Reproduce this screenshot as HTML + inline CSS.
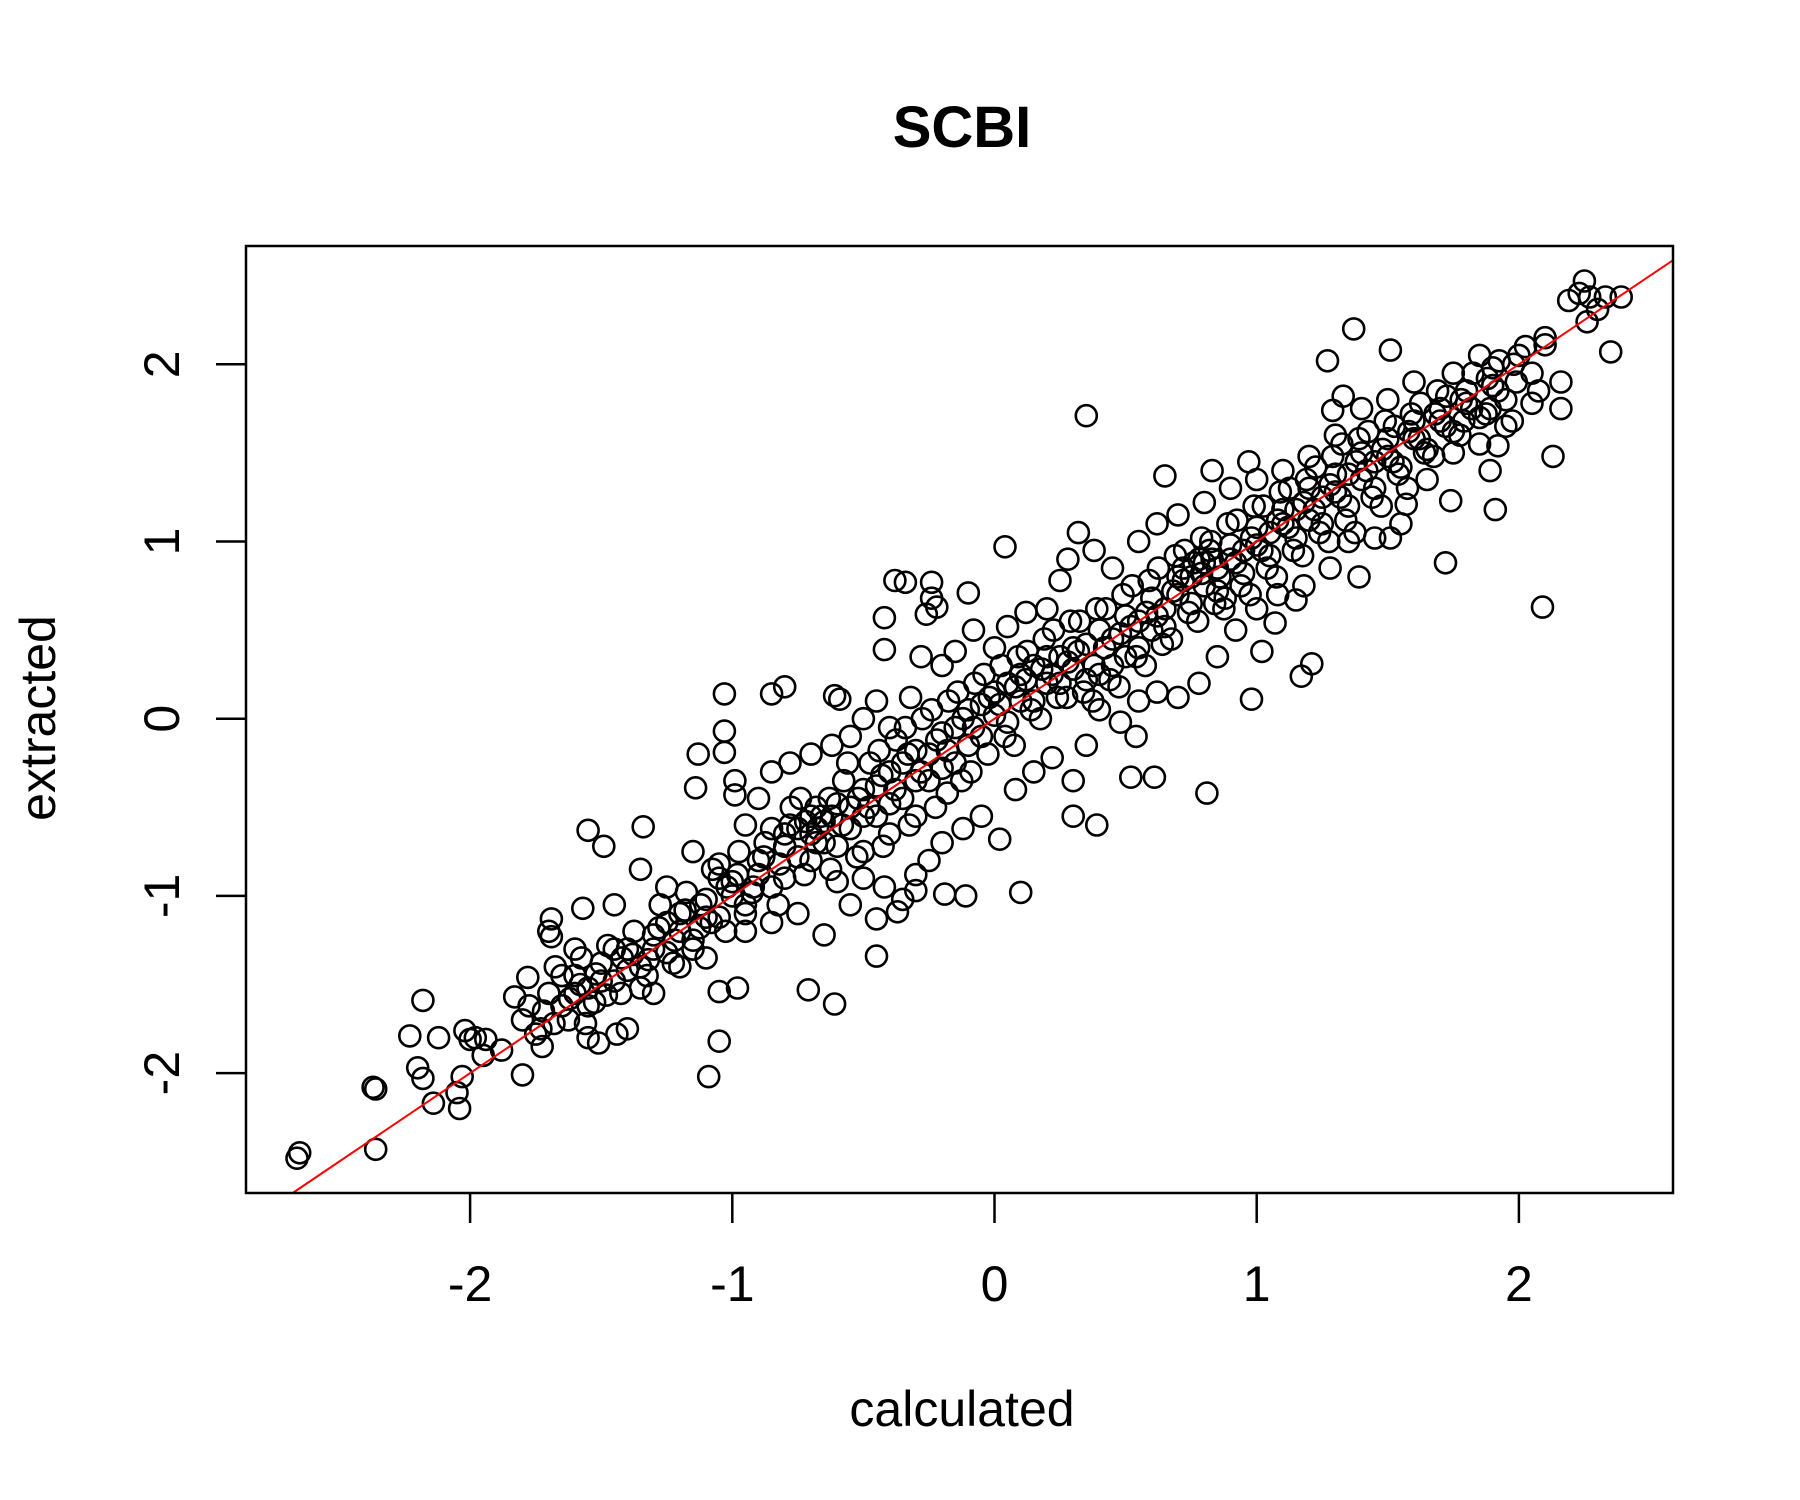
<!DOCTYPE html>
<html><head><meta charset="utf-8">
<style>
html,body{margin:0;padding:0;background:#fff;}
svg{display:block;font-family:"Liberation Sans",Arial,sans-serif;}
</style></head>
<body>
<svg id="chart" width="1800" height="1500" viewBox="0 0 1800 1500" xmlns="http://www.w3.org/2000/svg">
<rect x="0" y="0" width="1800" height="1500" fill="#fff"/>
<text x="962" y="147" text-anchor="middle" font-size="58" font-weight="bold">SCBI</text>
<text x="962" y="1426" text-anchor="middle" font-size="50">calculated</text>
<text transform="translate(55,718) rotate(-90)" text-anchor="middle" font-size="50">extracted</text>
<g id="points"></g>
<g id="xaxis"></g>
<g id="yaxis"></g>
<rect x="246" y="246" width="1427" height="947" fill="none" stroke="#000" stroke-width="2.5"/>
</svg>
<script>
const xTicks=[-2,-1,0,1,2];
const yTicks=[-2,-1,0,1,2];
const xTickLabels=["-2","-1","0","1","2"];
const yTickLabels=["-2","-1","0","1","2"];
const calculated=[
-2.66,-2.65,-2.37,-2.36,-2.36,-2.23,-2.18,-2.20,-2.18,-2.14,-2.12,-2.04,-2.05,-2.03,-2.02,-2.00,-1.98,-1.94,-1.95,-1.88,-1.83,-1.80,-1.78,-1.73,-1.69,-1.69,-1.55,-1.49,-1.34,-1.56,-1.51,-1.44,-1.57,-1.13,-1.14,-1.03,-1.03,-1.03,-0.99,-0.99,-1.05,-0.98,-1.05,-1.09,-0.71,-0.61,-0.85,-0.80,-0.61,-0.59,-0.42,-0.38,-0.34,-0.24,-0.24,-0.22,-0.26,-0.42,-0.10,0.04,-0.11,0.10,-0.45,-0.45,-0.37,-0.30,-0.19,0.35,0.30,0.39,0.52,0.61,0.54,0.81,0.65,0.83,0.97,0.98,1.02,1.17,1.21,1.07,1.15,1.27,1.37,1.51,1.29,1.33,1.39,1.51,1.57,1.74,1.72,1.91,1.89,1.92,2.09,2.13,2.16,2.16,2.10,2.23,2.25,2.19,2.27,2.26,2.35,2.39,2.33,2.30,
-1.80,-1.75,-1.70,-1.65,-1.60,-1.55,-1.50,-1.45,-1.40,-1.35,-1.30,-1.25,-1.20,-1.15,-1.10,-1.05,-1.00,-0.95,-0.90,-0.85,-0.80,-0.75,-0.70,-0.65,-0.60,-0.55,-0.50,-0.45,-0.40,-0.35,-0.30,-0.25,-0.20,-0.15,-0.10,-0.05,0.00,0.05,0.10,0.15,0.20,0.25,0.30,0.35,0.40,0.45,0.50,0.55,0.60,0.65,0.70,0.75,0.80,0.85,0.90,0.95,1.00,1.05,1.10,1.15,1.20,1.25,1.30,1.35,1.40,1.45,1.50,1.55,1.60,1.65,1.70,1.75,1.80,1.85,1.90,1.95,2.00,2.05,2.10,
-1.775,-1.725,-1.675,-1.625,-1.575,-1.525,-1.475,-1.425,-1.375,-1.325,-1.275,-1.225,-1.175,-1.125,-1.075,-1.025,-0.975,-0.925,-0.875,-0.825,-0.775,-0.725,-0.675,-0.625,-0.575,-0.525,-0.475,-0.425,-0.375,-0.325,-0.275,-0.225,-0.175,-0.125,-0.075,-0.025,0.025,0.075,0.125,0.175,0.225,0.275,0.325,0.375,0.425,0.475,0.525,0.575,0.625,0.675,0.725,0.775,0.825,0.875,0.925,0.975,1.025,1.075,1.125,1.175,1.225,1.275,1.325,1.375,1.425,1.475,1.525,1.575,1.625,1.675,1.725,1.775,1.825,1.875,1.925,1.975,2.025,2.075,
-1.60,-1.50,-1.40,-1.30,-1.20,-1.10,-1.00,-0.90,-0.80,-0.75,-0.70,-0.68,-0.65,-0.62,-0.60,-0.55,-0.50,-0.45,-0.40,-0.35,-0.30,-0.25,-0.20,-0.15,-0.10,-0.05,0.00,0.05,0.10,0.15,0.20,0.25,0.30,0.35,0.40,0.45,0.50,0.55,0.60,0.65,0.70,0.72,0.75,0.78,0.80,0.82,0.85,0.88,0.90,0.95,1.00,1.05,1.10,1.15,1.20,1.25,1.30,1.35,1.40,1.45,1.50,1.60,1.70,1.80,1.90,
-1.70,-1.60,-1.45,-1.35,-1.25,-1.15,-1.05,-0.95,-0.90,-0.85,-0.78,-0.70,-0.62,-0.55,-0.50,-0.45,-0.40,-0.32,-0.28,-0.20,-0.15,-0.08,0.00,0.05,0.12,0.20,0.25,0.28,0.32,0.38,0.45,0.55,0.62,0.70,0.80,0.90,1.00,1.10,1.20,1.30,1.40,1.50,1.60,1.75,1.85,
-1.55,-1.40,-1.30,-1.20,-1.10,-0.95,-0.85,-0.75,-0.65,-0.55,-0.50,-0.42,-0.35,-0.30,-0.25,-0.20,-0.12,-0.05,0.02,0.08,0.15,0.22,0.30,0.35,0.40,0.48,0.55,0.62,0.70,0.78,0.85,0.92,1.00,1.08,1.18,1.28,1.35,1.45,1.55,1.65,1.75,1.85,1.95,2.05,
-1.72,-1.68,-1.62,-1.58,-1.52,-1.48,-1.42,-1.38,-1.32,-1.28,-1.22,-1.18,-1.12,-1.08,-1.02,-0.98,-0.92,-0.88,-0.82,-0.78,-0.72,-0.68,-0.63,-0.58,-0.52,-0.48,-0.43,-0.38,-0.33,-0.28,-0.22,-0.18,-0.12,-0.08,-0.02,0.02,0.08,0.12,0.18,0.22,0.28,0.32,0.38,0.42,0.48,0.52,0.58,0.62,0.68,0.72,0.76,0.79,0.83,0.86,0.92,0.98,1.02,1.08,1.12,1.18,1.22,1.28,1.32,1.38,1.42,1.48,1.52,1.58,1.62,1.68,1.72,1.78,1.82,1.88,1.92,1.98,
-1.65,-1.55,-1.45,-1.35,-1.25,-1.15,-1.05,-0.95,-0.85,-0.80,-0.74,-0.70,-0.66,-0.60,-0.56,-0.50,-0.44,-0.40,-0.34,-0.30,-0.24,-0.18,-0.14,-0.09,-0.04,0.04,0.09,0.14,0.19,0.24,0.29,0.34,0.39,0.44,0.49,0.54,0.59,0.64,0.69,0.74,0.79,0.84,0.89,0.94,0.99,1.04,1.09,1.14,1.19,1.24,1.29,1.34,1.39,1.44,1.49,1.54,1.59,1.64,1.69,1.79,1.89,1.99
];
const extracted=[
-2.48,-2.45,-2.08,-2.09,-2.43,-1.79,-1.59,-1.97,-2.03,-2.17,-1.80,-2.20,-2.11,-2.02,-1.76,-1.81,-1.80,-1.81,-1.90,-1.87,-1.57,-2.01,-1.46,-1.75,-1.13,-1.23,-0.63,-0.72,-0.61,-1.72,-1.83,-1.78,-1.07,-0.20,-0.39,0.14,-0.07,-0.19,-0.35,-0.43,-1.54,-1.52,-1.82,-2.02,-1.53,-1.61,0.14,0.18,0.13,0.11,0.39,0.78,0.77,0.77,0.68,0.63,0.59,0.57,0.71,0.97,-1.00,-0.98,-1.34,-1.13,-1.09,-0.97,-0.99,1.71,-0.55,-0.60,-0.33,-0.33,-0.10,-0.42,1.37,1.40,1.45,0.11,0.38,0.24,0.31,0.54,0.67,2.02,2.20,2.08,1.74,1.82,0.80,1.02,1.21,1.23,0.88,1.18,1.40,1.54,0.63,1.48,1.75,1.90,2.11,2.40,2.47,2.36,2.38,2.24,2.07,2.38,2.38,2.31,
-1.70,-1.78,-1.55,-1.62,-1.45,-1.52,-1.38,-1.48,-1.30,-1.40,-1.22,-1.32,-1.10,-1.25,-1.02,-1.12,-0.92,-1.05,-0.80,-0.95,-0.65,-0.78,-0.55,-0.70,-0.48,-0.62,-0.40,-0.55,-0.30,-0.45,-0.18,-0.35,-0.08,-0.25,0.05,-0.10,0.15,-0.02,0.25,0.10,0.35,0.20,0.40,0.22,0.50,0.30,0.58,0.40,0.68,0.52,0.80,0.65,0.88,0.72,0.98,0.82,1.08,0.92,1.18,1.02,1.30,1.10,1.38,1.20,1.50,1.30,1.58,1.42,1.68,1.52,1.75,1.62,1.85,1.70,1.98,1.80,2.05,1.95,2.15,
-1.62,-1.85,-1.40,-1.70,-1.35,-1.60,-1.28,-1.55,-1.20,-1.45,-1.05,-1.38,-0.98,-1.18,-0.85,-1.20,-0.75,-0.98,-0.70,-1.05,-0.50,-0.88,-0.62,-0.85,-0.35,-0.78,-0.25,-0.72,-0.12,-0.60,0.00,-0.50,0.10,-0.35,0.20,-0.20,0.30,-0.15,0.38,0.00,0.50,0.12,0.55,0.10,0.62,0.18,0.75,0.30,0.85,0.45,0.95,0.55,1.00,0.62,1.12,0.70,1.20,0.80,1.30,0.92,1.42,1.00,1.55,1.05,1.62,1.20,1.65,1.30,1.78,1.48,1.82,1.60,1.95,1.72,2.02,1.68,2.10,1.85,
-1.55,-1.48,-1.42,-1.30,-1.20,-1.12,-1.00,-0.88,-0.72,-0.62,-0.65,-0.50,-0.58,-0.55,-0.72,-0.50,-0.55,-0.38,-0.48,-0.25,-0.35,-0.20,-0.28,-0.05,-0.15,0.08,0.02,0.20,0.10,0.30,0.20,0.35,0.28,0.42,0.25,0.45,0.35,0.55,0.50,0.62,0.70,0.85,0.80,0.90,0.75,0.95,0.85,0.68,0.90,0.95,0.98,1.05,1.10,1.18,1.12,1.25,1.28,1.38,1.35,1.45,1.48,1.58,1.68,1.78,1.88,
-1.20,-1.30,-1.05,-0.85,-0.95,-0.75,-0.82,-0.60,-0.45,-0.30,-0.25,-0.20,-0.15,-0.10,0.00,0.10,-0.05,0.12,0.35,0.30,0.38,0.50,0.40,0.52,0.60,0.62,0.78,0.90,1.05,0.95,0.85,1.00,1.10,1.15,1.22,1.30,1.35,1.40,1.48,1.60,1.75,1.80,1.90,1.95,2.05,
-1.80,-1.75,-1.55,-1.40,-1.35,-1.20,-1.15,-1.10,-1.22,-1.05,-0.90,-0.95,-1.02,-0.88,-0.80,-0.70,-0.62,-0.55,-0.68,-0.40,-0.30,-0.22,-0.35,-0.15,0.05,-0.02,0.10,0.15,0.12,0.20,0.35,0.50,0.62,0.70,0.75,0.85,1.00,1.02,1.10,1.35,1.50,1.55,1.65,1.78,
-1.65,-1.72,-1.58,-1.50,-1.44,-1.56,-1.35,-1.33,-1.36,-1.18,-1.25,-1.08,-1.05,-1.15,-0.95,-0.88,-0.95,-0.78,-0.82,-0.60,-0.58,-0.70,-0.45,-0.60,-0.45,-0.50,-0.32,-0.40,-0.20,-0.30,-0.12,-0.18,0.00,-0.05,0.12,0.08,0.18,0.22,0.28,0.25,0.32,0.38,0.30,0.40,0.48,0.52,0.60,0.58,0.72,0.78,0.88,0.82,0.90,0.80,0.88,1.02,0.95,1.12,1.08,1.22,1.18,1.32,1.25,1.45,1.40,1.52,1.45,1.62,1.58,1.72,1.65,1.80,1.75,1.92,1.85,2.00,
-1.45,-1.62,-1.30,-1.52,-1.15,-1.30,-0.90,-1.10,-0.62,-0.90,-0.45,-0.80,-0.55,-0.92,-0.25,-0.75,-0.18,-0.65,-0.05,-0.55,0.05,-0.42,0.15,-0.30,0.25,-0.10,0.35,0.05,0.45,0.12,0.55,0.15,0.62,0.22,0.70,0.35,0.78,0.42,0.92,0.60,1.02,0.65,1.10,0.75,1.20,0.85,1.28,0.95,1.35,1.05,1.48,1.12,1.58,1.25,1.68,1.38,1.72,1.50,1.85,1.68,1.75,1.90
];
const NS="http://www.w3.org/2000/svg";
const L=246,R=1673,T=246,B=1193;
function sx(v){return 994.5+v*262.2;}
function sy(v){return 718.7-v*177.2;}
const pg=document.getElementById('points');
const n=Math.min(calculated.length,extracted.length);
for(let i=0;i<n;i++){
  const c=document.createElementNS(NS,'circle');
  c.setAttribute('cx',sx(calculated[i]).toFixed(1));
  c.setAttribute('cy',sy(extracted[i]).toFixed(1));
  c.setAttribute('r','10.5');
  c.setAttribute('fill','none');
  c.setAttribute('stroke','#000');
  c.setAttribute('stroke-width','2.6');
  
  
  pg.appendChild(c);
}
const x0=Math.max((L-994.5)/262.2,(718.7-B)/177.2), x1=Math.min((R-994.5)/262.2,(718.7-T)/177.2);
const ln=document.createElementNS(NS,'line');
ln.setAttribute('x1',sx(x0));ln.setAttribute('y1',sy(x0));
ln.setAttribute('x2',sx(x1));ln.setAttribute('y2',sy(x1));
ln.setAttribute('stroke','#ff0000');ln.setAttribute('stroke-width','2');


pg.appendChild(ln);
const xg=document.getElementById('xaxis');
xTicks.forEach((v,i)=>{
  const t=document.createElementNS(NS,'line');
  t.setAttribute('x1',sx(v));t.setAttribute('x2',sx(v));t.setAttribute('y1',B);t.setAttribute('y2',B+30);
  t.setAttribute('stroke','#000');t.setAttribute('stroke-width','2.5');
  
  
  xg.appendChild(t);
  const tx=document.createElementNS(NS,'text');
  tx.setAttribute('x',sx(v));tx.setAttribute('y',1301);tx.setAttribute('text-anchor','middle');tx.setAttribute('font-size','50');
  tx.textContent=xTickLabels[i];
  
  
  xg.appendChild(tx);
});
const yg=document.getElementById('yaxis');
yTicks.forEach((v,i)=>{
  const t=document.createElementNS(NS,'line');
  t.setAttribute('y1',sy(v));t.setAttribute('y2',sy(v));t.setAttribute('x1',L);t.setAttribute('x2',L-30);
  t.setAttribute('stroke','#000');t.setAttribute('stroke-width','2.5');
  
  
  yg.appendChild(t);
  const tx=document.createElementNS(NS,'text');
  tx.setAttribute('transform','translate(179,'+sy(v)+') rotate(-90)');
  tx.setAttribute('text-anchor','middle');tx.setAttribute('font-size','50');
  tx.textContent=yTickLabels[i];
  
  
  yg.appendChild(tx);
});
</script>
</body></html>
